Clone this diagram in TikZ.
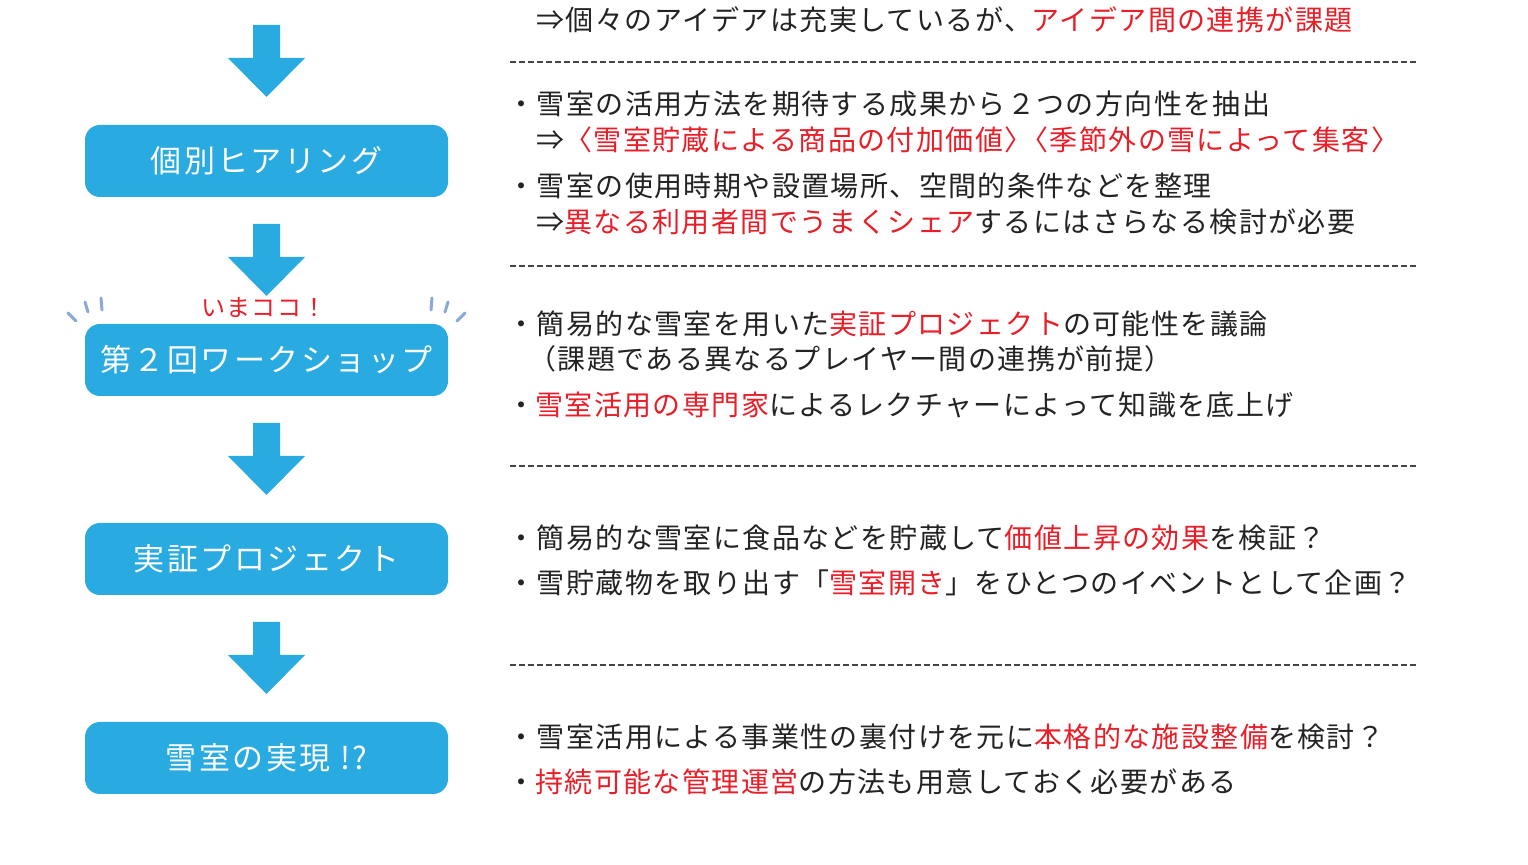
\documentclass[tikz,border=0pt]{standalone}
\usepackage{fontspec}
\usetikzlibrary{calc}
\setmainfont{Noto Sans CJK JP}
\newfontfamily\bodyfont[LetterSpace=5]{Noto Sans CJK JP}
\newfontfamily\boxfont[LetterSpace=8]{Noto Sans CJK JP}
\newfontfamily\notefont[LetterSpace=6]{Noto Sans CJK JP}
\definecolor{snowblue}{RGB}{41,170,225}
\definecolor{snowred}{RGB}{232,30,40}
\definecolor{inkgray}{RGB}{35,35,35}
\definecolor{sparkblue}{RGB}{140,168,218}
\newcommand{\hl}[1]{\textcolor{snowred}{#1}}
\newcommand{\flowarrow}[1]{
	\fill[snowblue] ($(#1)+(-13.5,0)$) -- ++(27,0) -- ++(0,33) -- ++(25,0)
		-- ++(-38.5,39) -- ++(-38.5,-39) -- ++(25,0) -- cycle;
}
\tikzset{
	stage/.style={fill=snowblue, rounded corners=7.5pt, minimum width=181.5pt,
		minimum height=36pt, inner sep=0pt, outer sep=0pt, text=white,
		font=\boxfont\fontsize{15.5pt}{18pt}\selectfont},
	note/.style={anchor=west, inner sep=0pt, text=inkgray,
		font=\bodyfont\fontsize{14pt}{16pt}\selectfont},
	divider/.style={draw=inkgray!85, line width=0.75pt, dash pattern=on 3pt off 1.5pt},
	spark/.style={draw=sparkblue, line width=1.5pt, line cap=round}
}

\begin{document}
\begin{tikzpicture}[x=0.5pt,y=-0.5pt]
	\fill[white] (0,0) rectangle (1528,865);
	\useasboundingbox (0,0) rectangle (1528,865);

	\coordinate (start) at (266.5,25);
	\node[stage] (hearing) at (266.5,161) {個別ヒアリング};
	\node[stage] (workshop) at (266.5,360) {第２回ワークショップ};
	\node[stage] (project) at (266.5,559) {実証プロジェクト};
	\node[stage] (goal) at (266.5,758) {雪室の実現 !?};

	\flowarrow{start}
	\flowarrow{$(hearing.south)+(0,27)$}
	\flowarrow{$(workshop.south)+(0,27)$}
	\flowarrow{$(project.south)+(0,27)$}

	\node[text=snowred, inner sep=0pt, font=\notefont\fontsize{12pt}{14pt}\selectfont]
		(now) at (264,308) {いまココ！};
	\draw[spark] (68,313) -- (76,321);
	\draw[spark] (85,302) -- (88,312);
	\draw[spark] (101,298) -- (102,310);
	\draw[spark] (465,313) -- (457,321);
	\draw[spark] (448,302) -- (445,312);
	\draw[spark] (432,298) -- (431,310);

	\node[note] (t0) at (536,20) {⇒個々のアイデアは充実しているが、\hl{アイデア間の連携が課題}};
	\draw[divider] (510,62) -- (1418,62);
	\node[note] (t1) at (507,104) {・雪室の活用方法を期待する成果から２つの方向性を抽出};
	\node[note] (t2) at (536,140) {⇒\hl{〈雪室貯蔵による商品の付加価値〉\hspace{-6pt}〈季節外の雪によって集客〉}};
	\node[note] (t3) at (507,186) {・雪室の使用時期や設置場所、空間的条件などを整理};
	\node[note] (t4) at (536,222) {⇒\hl{異なる利用者間でうまくシェア}するにはさらなる検討が必要};
	\draw[divider] (510,266) -- (1418,266);
	\node[note] (t5) at (507,324) {・簡易的な雪室を用いた\hl{実証プロジェクト}の可能性を議論};
	\node[note] (t6) at (528,359) {（課題である異なるプレイヤー間の連携が前提）};
	\node[note] (t7) at (507,405) {・\hl{雪室活用の専門家}によるレクチャーによって知識を底上げ};
	\draw[divider] (510,466) -- (1418,466);
	\node[note] (t8) at (507,538) {・簡易的な雪室に食品などを貯蔵して\hl{価値上昇の効果}を検証？};
	\node[note] (t9) at (507,583) {・雪貯蔵物を取り出す「\hl{雪室開き}」をひとつのイベントとして企画？};
	\draw[divider] (510,665) -- (1418,665);
	\node[note] (t10) at (507,737) {・雪室活用による事業性の裏付けを元に\hl{本格的な施設整備}を検討？};
	\node[note] (t11) at (507,782) {・\hl{持続可能な管理運営}の方法も用意しておく必要がある};
\end{tikzpicture}
\end{document}
